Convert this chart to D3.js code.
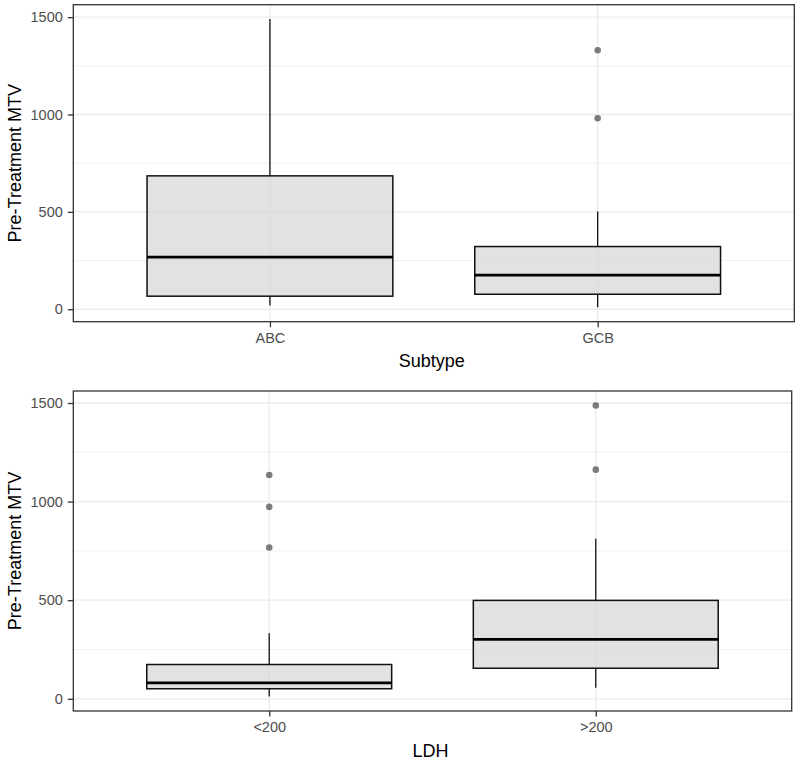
<!DOCTYPE html>
<html>
<head>
<meta charset="utf-8">
<script src="https://cdn.jsdelivr.net/npm/d3@7"></script>
<style>
  body { margin: 0; background: #fff; }
  svg { display: block; font-family: "Liberation Sans", Arial, sans-serif; }
</style>
</head>
<body>
<svg id="chart" width="800" height="763"></svg>
<script>
// box stats (Pre-Treatment MTV)
var subtypeCats     = ["ABC", "GCB"];
var subtypeMin      = [19, 10];
var subtypeQ1       = [67, 77];
var subtypeMedian   = [268, 175];
var subtypeQ3       = [685, 322];
var subtypeMax      = [1490, 502];
var subtypeOutliers = [[], [981, 1330]];

var ldhCats     = ["<200", ">200"];
var ldhMin      = [12, 56];
var ldhQ1       = [51, 155];
var ldhMedian   = [81, 301];
var ldhQ3       = [174, 499];
var ldhMax      = [333, 812];
var ldhOutliers = [[767, 973, 1135], [1162, 1487]];

var yMajor = [0, 500, 1000, 1500];
var yMinor = [250, 750, 1250];
var yTitle = "Pre-Treatment MTV";

var svg = d3.select("#chart");

function rows(cats, mn, q1, med, q3, mx, outl) {
	return cats.map(function(c, i) {
		return {cat: c, min: mn[i], q1: q1[i], med: med[i], q3: q3[i], max: mx[i], out: outl[i]};
	});
}

function panel(data, xTitle, box) {
	var g = svg.append("g");

	// ggplot style 5% expansion of the data range
	var all = [];
	data.forEach(function(d) { all.push(d.min, d.max); all = all.concat(d.out); });
	var lo = d3.min(all), hi = d3.max(all), pad = (hi - lo) * 0.05;

	var y = d3.scaleLinear().domain([lo - pad, hi + pad]).range([box.bottom, box.top]);
	var x = d3.scalePoint().domain(data.map(function(d) { return d.cat; }))
		.range([box.left, box.right]).padding(0.6);
	var bw = x.step() * 0.75;

	// grid
	g.selectAll(".minor").data(yMinor).enter().append("line")
		.attr("x1", box.left).attr("x2", box.right)
		.attr("y1", y).attr("y2", y)
		.attr("stroke", "#EBEBEB").attr("stroke-width", 0.7);
	g.selectAll(".major").data(yMajor).enter().append("line")
		.attr("x1", box.left).attr("x2", box.right)
		.attr("y1", y).attr("y2", y)
		.attr("stroke", "#EBEBEB").attr("stroke-width", 1.3);
	g.selectAll(".vmajor").data(data).enter().append("line")
		.attr("x1", function(d) { return x(d.cat); }).attr("x2", function(d) { return x(d.cat); })
		.attr("y1", box.top).attr("y2", box.bottom)
		.attr("stroke", "#EBEBEB").attr("stroke-width", 1.3);

	var b = g.selectAll(".box").data(data).enter().append("g");

	// whiskers
	b.append("line")
		.attr("x1", function(d) { return x(d.cat); }).attr("x2", function(d) { return x(d.cat); })
		.attr("y1", function(d) { return y(d.max); }).attr("y2", function(d) { return y(d.q3); })
		.attr("stroke", "#111").attr("stroke-width", 1.3);
	b.append("line")
		.attr("x1", function(d) { return x(d.cat); }).attr("x2", function(d) { return x(d.cat); })
		.attr("y1", function(d) { return y(d.q1); }).attr("y2", function(d) { return y(d.min); })
		.attr("stroke", "#111").attr("stroke-width", 1.3);

	b.append("rect")
		.attr("x", function(d) { return x(d.cat) - bw / 2; })
		.attr("width", bw)
		.attr("y", function(d) { return y(d.q3); })
		.attr("height", function(d) { return y(d.q1) - y(d.q3); })
		.attr("fill", "#D5D5D5").attr("fill-opacity", 0.7)
		.attr("stroke", "#111").attr("stroke-width", 1.5);

	b.append("line")
		.attr("x1", function(d) { return x(d.cat) - bw / 2; })
		.attr("x2", function(d) { return x(d.cat) + bw / 2; })
		.attr("y1", function(d) { return y(d.med); }).attr("y2", function(d) { return y(d.med); })
		.attr("stroke", "#000").attr("stroke-width", 2.8);

	b.selectAll("circle").data(function(d) {
			return d.out.map(function(v) { return {cat: d.cat, v: v}; });
		}).enter().append("circle")
		.attr("cx", function(d) { return x(d.cat); })
		.attr("cy", function(d) { return y(d.v); })
		.attr("r", 3.3)
		.attr("fill", "#000").attr("fill-opacity", 0.5);

	// panel border
	g.append("rect")
		.attr("x", box.left).attr("y", box.top)
		.attr("width", box.right - box.left).attr("height", box.bottom - box.top)
		.attr("fill", "none").attr("stroke", "#333").attr("stroke-width", 1.3);

	// axes
	var ya = g.append("g").attr("transform", "translate(" + box.left + ",0)")
		.call(d3.axisLeft(y).tickValues(yMajor).tickFormat(d3.format("d")).tickSize(5.5).tickPadding(5));
	var xa = g.append("g").attr("transform", "translate(0," + box.bottom + ")")
		.call(d3.axisBottom(x).tickSize(5.5).tickPadding(5.5));
	[ya, xa].forEach(function(a) {
		a.select(".domain").remove();
		a.selectAll(".tick line").attr("stroke", "#333").attr("stroke-width", 1.3);
		a.selectAll(".tick text").attr("fill", "#4D4D4D")
			.style("font-size", "14.5px").style("font-family", "Liberation Sans, Arial, sans-serif");
	});

	g.append("text")
		.attr("x", (box.left + box.right) / 2 - 2)
		.attr("y", box.bottom + 45.5)
		.attr("text-anchor", "middle")
		.style("font-size", "18px").attr("fill", "#000")
		.text(xTitle);

	g.append("text")
		.attr("transform", "translate(20.5," + ((box.top + box.bottom) / 2) + ") rotate(-90)")
		.attr("text-anchor", "middle")
		.style("font-size", "18px").attr("fill", "#000")
		.text(yTitle);
}

panel(rows(subtypeCats, subtypeMin, subtypeQ1, subtypeMedian, subtypeQ3, subtypeMax, subtypeOutliers),
	"Subtype", {left: 73.3, right: 794.3, top: 4.7, bottom: 321.7});
panel(rows(ldhCats, ldhMin, ldhQ1, ldhMedian, ldhQ3, ldhMax, ldhOutliers),
	"LDH", {left: 73.3, right: 791.7, top: 391, bottom: 711});
</script>
</body>
</html>
